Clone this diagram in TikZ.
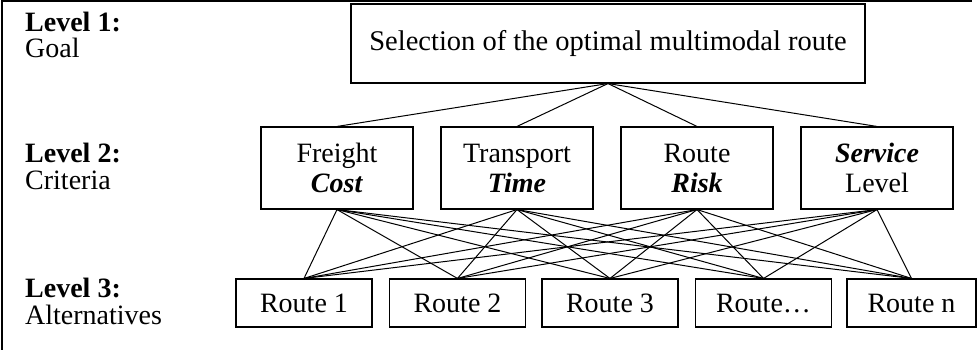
\documentclass[tikz,border=0pt]{standalone}
\usepackage{fontspec}
\setmainfont{Liberation Serif}
\begin{document}
\begin{tikzpicture}[x=1pt,y=-1pt,
  box/.style={draw,line width=1.1pt,inner sep=0pt,align=center,font=\fontsize{28}{30}\selectfont},
  lvbox/.style={box,minimum width=152pt,minimum height=82pt},
  rtbox/.style={box,minimum width=136pt,minimum height=48pt,text height=19pt,text depth=1pt},
  conn/.style={line width=1pt},
  lbl/.style={anchor=base west,inner sep=0pt,font=\fontsize{28}{30}\selectfont},
  frame/.style={line width=2pt}]
\useasboundingbox (0,0) rectangle (977,350);
% frame
\coordinate (fb) at (1.5,350);
\coordinate (fc) at (1.5,1.5);
\coordinate (fr) at (972,1.5);
\draw[frame] (fb) -- (fc) -- (fr);
% labels
\node[lbl] (l1a) at (25,32) {\textbf{Level 1:}};
\node[lbl] (l1b) at (25,58) {Goal};
\node[lbl] (l2a) at (25,162) {\textbf{Level 2:}};
\node[lbl] (l2b) at (25,189) {Criteria};
\node[lbl] (l3a) at (25,297) {\textbf{Level 3:}};
\node[lbl] (l3b) at (25,324) {Alternatives};
% goal
\node[box,font=\fontsize{28.5}{30}\selectfont,minimum width=514pt,minimum height=79pt] (goal) at (608,43.5) {Selection of the optimal multimodal route};
% criteria
\node[lvbox] (c1) at (337,168) {Freight\\\textbf{\textit{Cost}}};
\node[lvbox] (c2) at (517,168) {Transport\\\textbf{\textit{Time}}};
\node[lvbox] (c3) at (697,168) {Route\\\textbf{\textit{Risk}}};
\node[lvbox] (c4) at (877,168) {\textbf{\textit{Service}}\\Level};
% alternatives
\node[rtbox] (r1) at (304,303) {Route 1};
\node[rtbox] (r2) at (457.5,303) {Route 2};
\node[rtbox] (r3) at (610,303) {Route 3};
\node[rtbox] (r4) at (763.5,303) {Route…};
\node[rtbox,minimum width=129pt] (r5) at (911.5,303) {Route n};
% connectors
\foreach \c in {c1,c2,c3,c4} \draw[conn] (goal.south) -- (\c.north);
\foreach \c in {c1,c2,c3,c4} \foreach \r in {r1,r2,r3,r4,r5} \draw[conn] (\c.south) -- (\r.north);
\end{tikzpicture}
\end{document}
